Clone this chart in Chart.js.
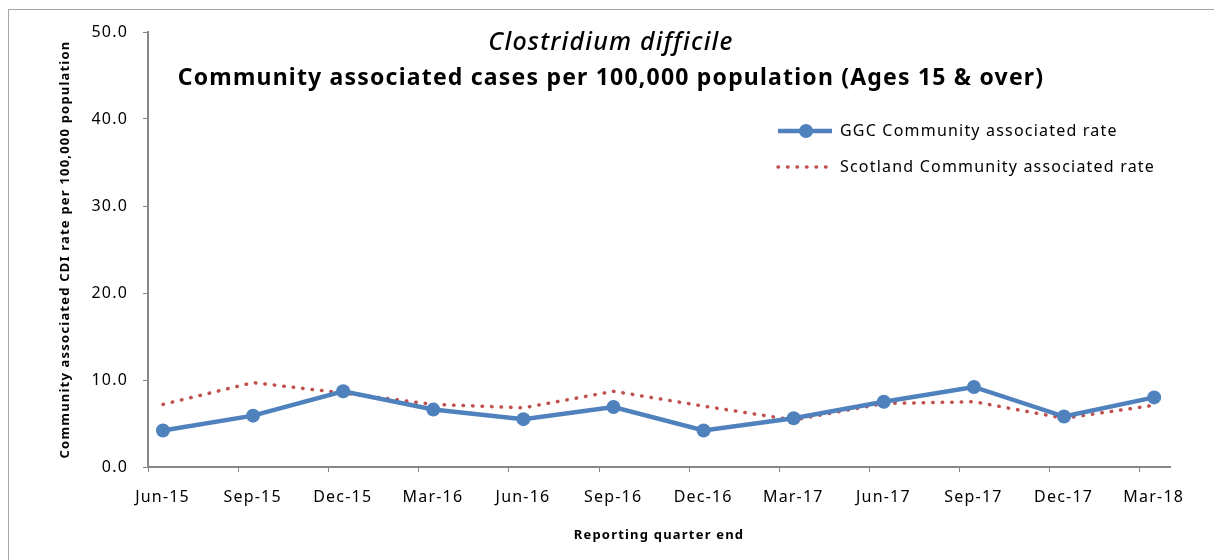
<!DOCTYPE html>
<html>
<head>
<meta charset="utf-8">
<script src="https://cdn.jsdelivr.net/npm/chart.js@4"></script>
<style>
  html, body { margin: 0; padding: 0; background: #fff; }
  #wrap { width: 1214px; height: 560px; position: relative; }
</style>
</head>
<body>
<div id="wrap"><canvas id="c" width="1214" height="560"></canvas></div>
<script>
// ---- data ----
const categories = ["Jun-15","Sep-15","Dec-15","Mar-16","Jun-16","Sep-16","Dec-16","Mar-17","Jun-17","Sep-17","Dec-17","Mar-18"];
const ggcRate = [4.2, 5.9, 8.7, 6.6, 5.5, 6.9, 4.2, 5.6, 7.5, 9.2, 5.8, 8.0];
const scotlandRate = [7.2, 9.7, 8.5, 7.2, 6.8, 8.7, 7.0, 5.4, 7.3, 7.5, 5.6, 7.1];
const seriesNames = ["GGC Community associated rate", "Scotland Community associated rate"];
const titleLine1 = "Clostridium difficile";
const titleLine2 = "Community associated cases per 100,000 population (Ages 15 & over)";
const yTitle = "Community associated CDI rate per 100,000 population";
const xTitle = "Reporting quarter end";

const FONT = "'Noto Sans', 'Open Sans', sans-serif";
const BLUE = "#4F81BD";
const RED = "#C0504D";
const AXIS = "#868686";
const SPACING = "1.2px";

const spacingPlugin = {
  id: 'spacing',
  beforeUpdate(chart) { chart.ctx.letterSpacing = SPACING; },
  beforeLayout(chart) { chart.ctx.letterSpacing = SPACING; },
  beforeDraw(chart) { chart.ctx.letterSpacing = SPACING; }
};

const overlay = {
  id: 'overlay',
  beforeDraw(chart) {
    const ctx = chart.ctx;
    ctx.save();
    ctx.strokeStyle = "#a6a6a6";
    ctx.lineWidth = 1;
    ctx.strokeRect(8.5, 9.5, 1300, 700);
    ctx.restore();
  },
  afterDraw(chart) {
    const ctx = chart.ctx;
    ctx.save();
    ctx.fillStyle = "#000";
    ctx.textAlign = "center";
    ctx.textBaseline = "middle";
    ctx.letterSpacing = "1.2px";
    ctx.font = "italic 500 25px " + FONT;
    ctx.fillText(titleLine1, 611, 43);
    ctx.letterSpacing = "1.2px";
    ctx.font = "bold 23px " + FONT;
    ctx.fillText(titleLine2, 611, 78);

    // legend
    const ds = chart.data.datasets;
    const rows = [131, 167];
    ds.forEach((d, i) => {
      const y = rows[i];
      ctx.save();
      ctx.strokeStyle = d.borderColor;
      ctx.lineWidth = d.borderWidth;
      ctx.lineCap = d.borderCapStyle || 'butt';
      ctx.setLineDash(d.borderDash || []);
      ctx.beginPath();
      ctx.moveTo(778, y);
      ctx.lineTo(832, y);
      ctx.stroke();
      if (d.pointRadius > 0) {
        ctx.setLineDash([]);
        ctx.fillStyle = d.pointBackgroundColor;
        ctx.beginPath();
        ctx.arc(806, y, d.pointRadius, 0, Math.PI * 2);
        ctx.fill();
      }
      ctx.restore();
      ctx.fillStyle = "#000";
      ctx.textAlign = "left";
      ctx.textBaseline = "middle";
      ctx.letterSpacing = "1.2px";
      ctx.font = "16px " + FONT;
      ctx.fillText(d.label, 840, y);
    });
    ctx.restore();
  }
};

new Chart(document.getElementById('c'), {
  type: 'line',
  data: {
    datasets: [
      {
        label: seriesNames[0],
        data: ggcRate.map((v, i) => ({x: i, y: v})),
        borderColor: BLUE,
        backgroundColor: BLUE,
        borderWidth: 4.5,
        pointRadius: 7,
        pointBackgroundColor: BLUE,
        pointBorderColor: BLUE,
        pointBorderWidth: 0,
        tension: 0,
        order: 1
      },
      {
        label: seriesNames[1],
        data: scotlandRate.map((v, i) => ({x: i, y: v})),
        borderColor: RED,
        backgroundColor: RED,
        borderWidth: 3.5,
        borderDash: [0.5, 9],
        borderCapStyle: 'round',
        pointRadius: 0,
        tension: 0,
        order: 2
      }
    ]
  },
  options: {
    responsive: false,
    animation: false,
    devicePixelRatio: 1,
    layout: { padding: { left: 0, right: 44, top: 32, bottom: 0 } },
    plugins: {
      legend: { display: false },
      title: { display: false },
      tooltip: { enabled: false }
    },
    scales: {
      x: {
        type: 'linear',
        min: -0.166,
        max: 11.176,
        afterBuildTicks(scale) {
          scale.ticks = categories.map((c, i) => ({ value: i - 0.16 }));
        },
        afterFit(scale) { scale.height = 93; },
        grid: { drawOnChartArea: false, drawTicks: true, tickLength: 5, color: AXIS, lineWidth: 1 },
        border: { display: true, color: AXIS, width: 2 },
        ticks: {
          autoSkip: false,
          maxRotation: 0,
          padding: 16,
          labelOffset: 14,
          color: "#000",
          font: { family: FONT, size: 16 },
          callback: (v, i) => categories[i]
        },
        title: {
          display: true,
          text: xTitle,
          color: "#000",
          font: { family: FONT, size: 13, weight: 'bold' },
          padding: { top: 0, bottom: 17 }
        }
      },
      y: {
        min: 0,
        max: 50,
        afterFit(scale) { scale.width = 148; },
        grid: { drawOnChartArea: false, drawTicks: true, tickLength: 5, color: AXIS, lineWidth: 1 },
        border: { display: true, color: AXIS, width: 2 },
        ticks: {
          stepSize: 10,
          padding: 15,
          color: "#000",
          font: { family: FONT, size: 16 },
          callback: v => Number(v).toFixed(1)
        },
        title: {
          display: true,
          text: yTitle,
          color: "#000",
          font: { family: FONT, size: 13, weight: 'bold' },
          padding: { top: 57, bottom: 0 }
        }
      }
    }
  },
  plugins: [spacingPlugin, overlay]
});
</script>
</body>
</html>
